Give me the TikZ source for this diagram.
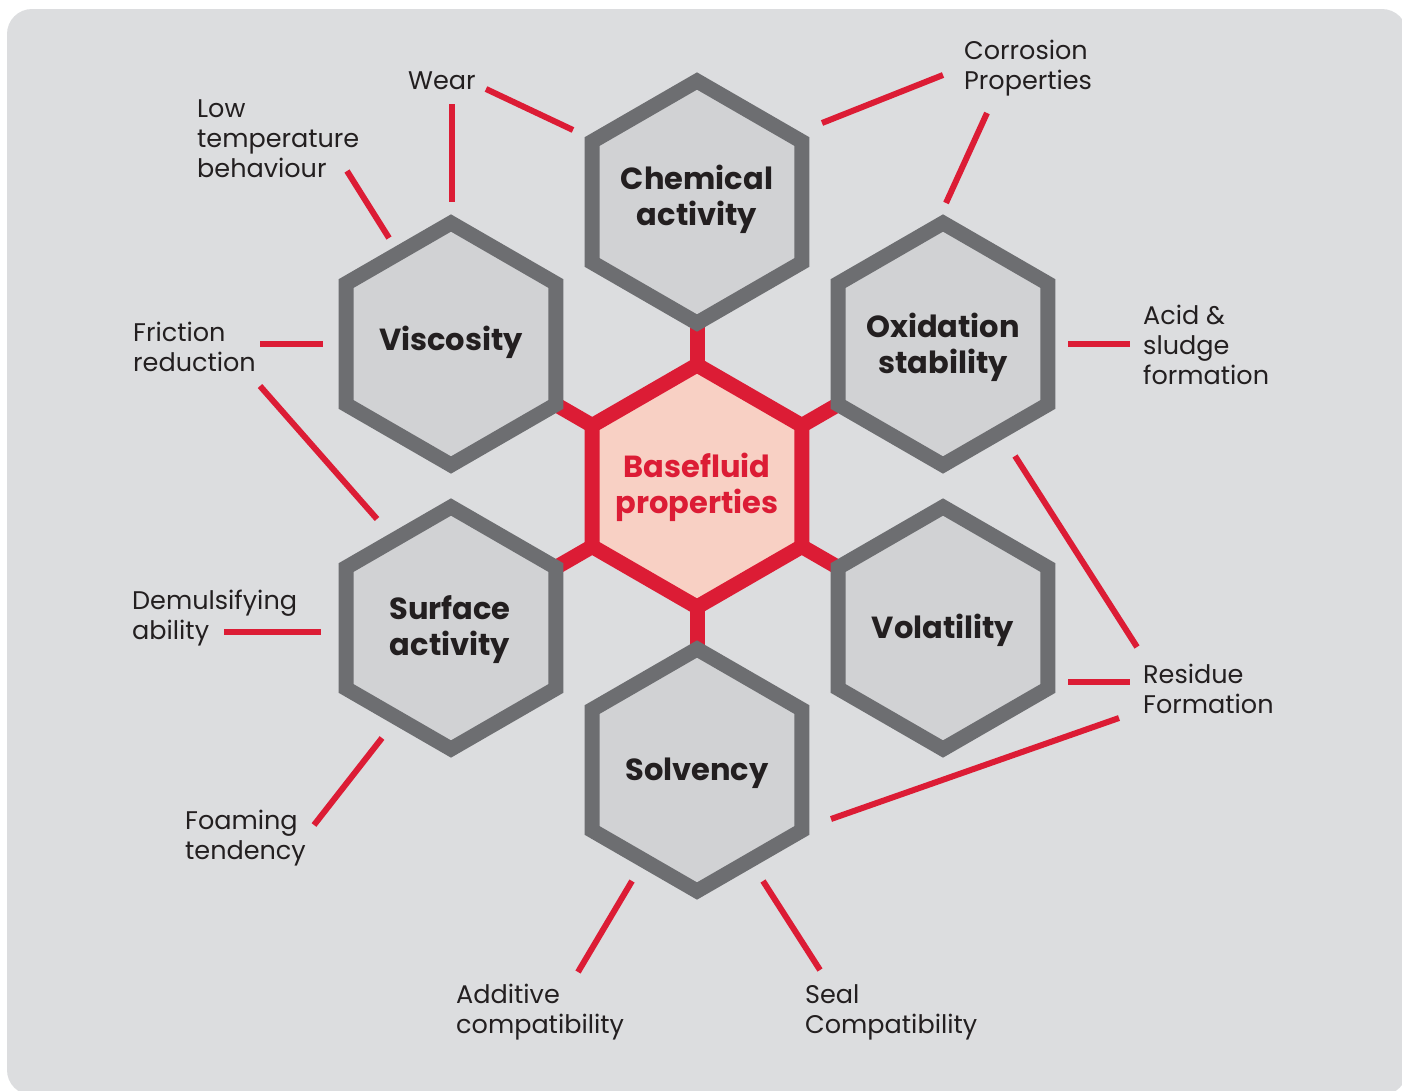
\documentclass[tikz,border=0pt]{standalone}
\usepackage{fontspec}
\setmainfont{Poppins}
\definecolor{bgcol}{HTML}{DCDDDF}
\definecolor{hexfill}{HTML}{D1D2D4}
\definecolor{hexgray}{HTML}{6D6E71}
\definecolor{bfred}{HTML}{DC1C35}
\definecolor{bfpink}{HTML}{F8D0C4}
\definecolor{txt}{HTML}{231F20}
\newcommand\lblfont{\fontsize{25.5}{30}\selectfont}
\newcommand\hexfont{\fontsize{30.5}{36}\selectfont\bfseries}
\newcommand\llines[1]{\begin{tabular}[t]{@{}l@{}}#1\end{tabular}}
\newcommand\clines[1]{\begin{tabular}[t]{@{}c@{}}#1\end{tabular}}
\newcommand\hexpath[2]{\draw[#2] ([shift={(90:121)}]#1) -- ([shift={(150:121)}]#1) -- ([shift={(210:121)}]#1) -- ([shift={(270:121)}]#1) -- ([shift={(330:121)}]#1) -- ([shift={(30:121)}]#1) -- cycle;}
\begin{document}
\begin{tikzpicture}[x=1pt,y=-1pt,
  hexo/.style={draw=hexgray, fill=hexfill, line width=15pt, line join=miter},
  hexc/.style={draw=bfred, fill=bfpink, line width=15pt, line join=miter},
  hublink/.style={draw=bfred, line width=15pt},
  thinlink/.style={draw=bfred, line width=6pt},
  lbl/.style={font=\lblfont, text=txt, inner sep=0pt, anchor=base west},
  htxt/.style={font=\hexfont, text=txt, inner sep=0pt, anchor=base}]
\useasboundingbox (0,0) rectangle (1402,1090);
\clip (0,0) rectangle (1402,1090);
\fill[bgcol, rounded corners=25pt] (7,9) rectangle (1407,1095);

% hexagon centres
\coordinate (base) at (697,486);
\coordinate (chem) at (697,202);
\coordinate (solv) at (697,770);
\coordinate (visc) at (451,344);
\coordinate (oxid) at (943,344);
\coordinate (surf) at (451,628);
\coordinate (vola) at (943,628);

% hub connectors
\foreach \n in {chem,solv,visc,oxid,surf,vola}{\draw[hublink] (base) -- (\n);}

% hexagons
\foreach \n in {chem,solv,visc,oxid,surf,vola}{\hexpath{\n}{hexo}}
\hexpath{base}{hexc}

% hexagon texts
\node[htxt] (chemT) at (697,189) {\clines{Chemical\\activity}};
\node[htxt] (viscT) at (451,350) {\clines{Viscosity}};
\node[htxt] (oxidT) at (943,337) {\clines{Oxidation\\stability}};
\node[htxt, text=bfred] (baseT) at (697,477) {\clines{Basefluid\\properties}};
\node[htxt] (surfT) at (450,619) {\clines{Surface\\activity}};
\node[htxt] (volaT) at (943,638) {\clines{Volatility}};
\node[htxt] (solvT) at (697,780) {\clines{Solvency}};

% labels
\node[lbl] (wear) at (408,89) {\llines{Wear}};
\node[lbl] (lowt) at (197,117) {\llines{Low\\temperature\\behaviour}};
\node[lbl] (corr) at (964,59) {\llines{Corrosion\\Properties}};
\node[lbl] (fric) at (133,341) {\llines{Friction\\reduction}};
\node[lbl] (acid) at (1143,324) {\llines{Acid \&\\sludge\\formation}};
\node[lbl] (demu) at (132,609) {\llines{Demulsifying\\ability}};
\node[lbl] (resi) at (1143,683) {\llines{Residue\\Formation}};
\node[lbl] (foam) at (185,829) {\llines{Foaming\\tendency}};
\node[lbl] (addi) at (456,1003) {\llines{Additive\\compatibility}};
\node[lbl] (seal) at (805,1003) {\llines{Seal\\Compatibility}};

% thin connector end points
\coordinate (w1) at (486,89);   \coordinate (w2) at (573,130);
\coordinate (w3) at (452,104);  \coordinate (w4) at (452,202);
\coordinate (l1) at (347,171);  \coordinate (l2) at (389,238);
\coordinate (f1) at (260,344);  \coordinate (f2) at (323,344);
\coordinate (f3) at (260,386);  \coordinate (f4) at (377,519);
\coordinate (d1) at (224,632);  \coordinate (d2) at (321,632);
\coordinate (g1) at (382,738);  \coordinate (g2) at (314,825);
\coordinate (a1) at (632,881);  \coordinate (a2) at (578,972);
\coordinate (s1) at (763,881);  \coordinate (s2) at (820,970);
\coordinate (r1) at (831,819);  \coordinate (r2) at (1119,718);
\coordinate (r3) at (1068,682); \coordinate (r4) at (1130,682);
\coordinate (r5) at (1015,456); \coordinate (r6) at (1137,647);
\coordinate (h1) at (1068,344); \coordinate (h2) at (1130,344);
\coordinate (c1) at (987,113);  \coordinate (c2) at (946,203);
\coordinate (c3) at (822,123);  \coordinate (c4) at (943,75);

\foreach \p/\q in {w1/w2,w3/w4,l1/l2,f1/f2,f3/f4,d1/d2,g1/g2,a1/a2,s1/s2,r1/r2,r3/r4,r5/r6,h1/h2,c1/c2,c3/c4}
  {\draw[thinlink] (\p) -- (\q);}
\end{tikzpicture}
\end{document}
